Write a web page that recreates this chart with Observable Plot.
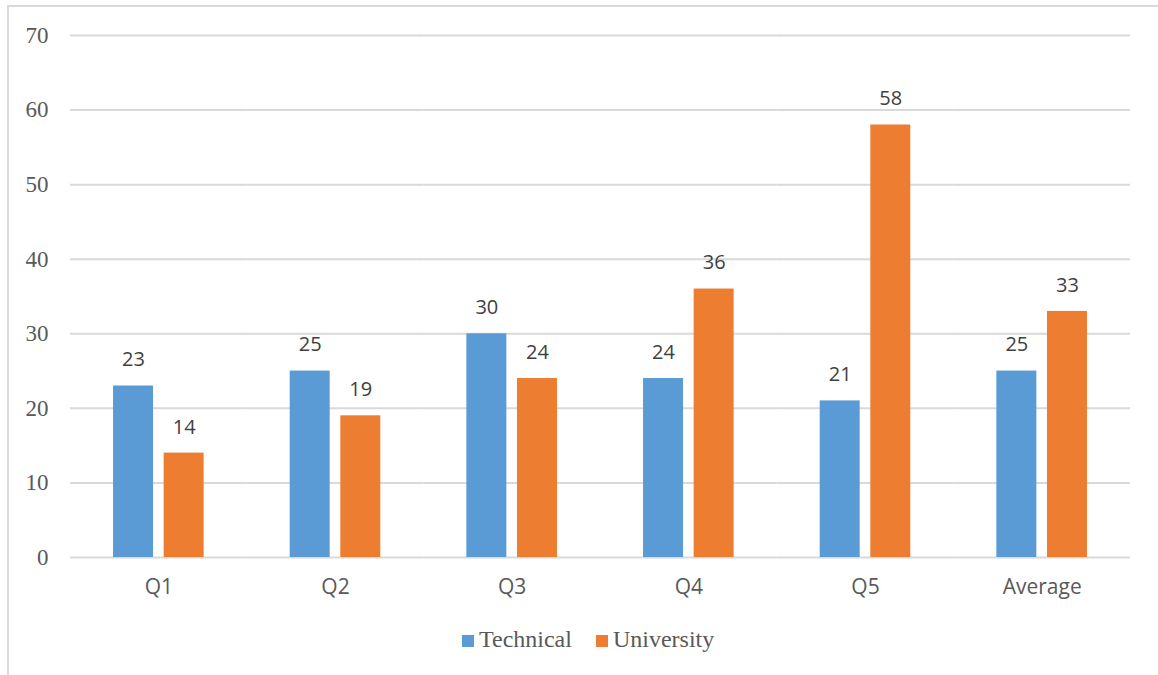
<!DOCTYPE html>
<html>
<head>
<meta charset="utf-8">
<script src="https://cdn.jsdelivr.net/npm/d3@7"></script>
<script src="https://cdn.jsdelivr.net/npm/@observablehq/plot@0.6"></script>
<style>
  body { margin: 0; background: #fff; }
  #wrap { position: relative; width: 1158px; height: 675px; overflow: hidden; background: #fff; }
  #frame { position: absolute; left: 7px; top: 5px; width: 1200px; height: 720px; border: 2px solid #d9d9d9; box-sizing: border-box; }
  #chart { position: absolute; left: 0; top: 0; }
  #legend { position: absolute; top: 626px; left: 462px; display: flex; align-items: center;
            font-family: "Liberation Serif", "Times New Roman", serif; font-size: 24px; color: #595959; white-space: nowrap; }
  .sw { display: inline-block; width: 12px; height: 12px; margin-right: 5px; margin-top: 2px; }
  .item { display: flex; align-items: center; margin-right: 24px; }
</style>
</head>
<body>
<div id="wrap">
  <div id="frame"></div>
  <div id="chart"></div>
  <div id="legend"></div>
</div>
<script>
const categories = ["Q1", "Q2", "Q3", "Q4", "Q5", "Average"];
const series = ["Technical", "University"];
const technical = [23, 25, 30, 24, 21, 25];
const university = [14, 19, 24, 36, 58, 33];
const yTicks = [0, 10, 20, 30, 40, 50, 60, 70];
const colors = ["#5B9BD5", "#ED7D31"];

const data = [];
categories.forEach((c, i) => {
  data.push({cat: c, series: series[0], value: technical[i]});
  data.push({cat: c, series: series[1], value: university[i]});
});

const chart = Plot.plot({
  width: 1158,
  height: 620,
  marginLeft: 70,
  marginRight: 28,
  marginTop: 35,
  marginBottom: 63,
  style: {fontFamily: "'Open Sans', sans-serif", color: "#595959", background: "transparent"},
  fx: {domain: categories, padding: 0, round: false, label: null},
  x: {domain: series, paddingInner: 0.21, paddingOuter: 0.85, round: false, axis: null},
  y: {domain: [0, 70], label: null},
  color: {domain: series, range: colors},
  marks: [
    Plot.gridY(yTicks, {stroke: "#d9d9d9", strokeOpacity: 1, strokeWidth: 2}),
    Plot.barY(data, {fx: "cat", x: "series", y: "value", fill: "series"}),
    Plot.text(data, {fx: "cat", x: "series", y: "value", text: d => String(d.value),
      dy: -26, lineAnchor: "middle", fontSize: 20, fill: "#404040"}),
    Plot.axisY(yTicks, {tickSize: 0, tickPadding: 22, label: null, fontFamily: "'Liberation Serif', serif",
      fontSize: 23, fill: "#595959"}),
    Plot.axisFx({anchor: "bottom", tickSize: 0, tickPadding: 22, label: null, fontSize: 21, fill: "#595959"})
  ]
});
document.getElementById("chart").appendChild(chart);

const legend = document.getElementById("legend");
series.forEach((s, i) => {
  const item = document.createElement("span");
  item.className = "item";
  const sw = document.createElement("span");
  sw.className = "sw";
  sw.style.background = colors[i];
  item.appendChild(sw);
  item.appendChild(document.createTextNode(s));
  legend.appendChild(item);
});
</script>
</body>
</html>
